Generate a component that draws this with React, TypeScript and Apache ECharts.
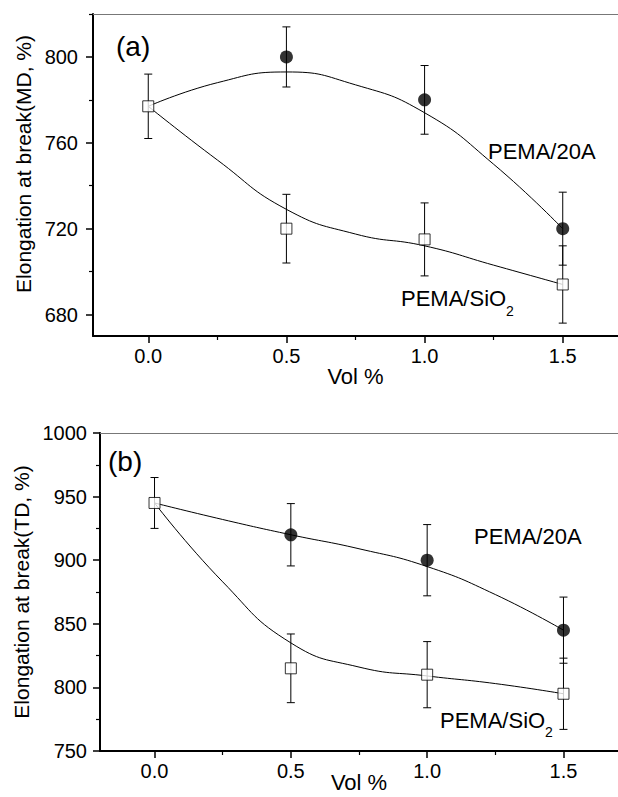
import React, { useEffect, useRef } from "react";
import * as echarts from "echarts";

// ---------- data ----------
const volFrac = [0, 0.5, 1.0, 1.5];
const fitX = [0, 0.25, 0.5, 0.75, 1.0, 1.25, 1.5];

// (a) machine direction
const mdSiO2 = [777, 720, 715, 694];
const mdSiO2Err = [15, 16, 17, 18];
const md20AX = [0.5, 1.0, 1.5];
const md20A = [800, 780, 720];
const md20AErr = [14, 16, 17];
const md20AFit = [777, 788, 793, 787, 774, 750, 720];
const mdSiO2Fit = [777, 752, 729, 717.5, 712, 703, 694];

// (b) transverse direction
const tdSiO2 = [945, 815, 810, 795];
const tdSiO2Err = [20, 27, 26, 28];
const td20AX = [0.5, 1.0, 1.5];
const td20A = [920, 900, 845];
const td20AErr = [24.5, 28, 26];
const td20AFit = [945, 932, 920, 909, 895, 873, 845];
const tdSiO2Fit = [945, 883, 835, 816, 809, 803, 795];

// ticks
const xMajor = [0, 0.5, 1.0, 1.5];
const xMinor = [0.25, 0.75, 1.25];
const mdMajor = [680, 720, 760, 800];
const mdMinor = [700, 740, 780, 820];
const tdMajor = [750, 800, 850, 900, 950, 1000];
const tdMinor = [775, 825, 875, 925, 975];

const FONT = "'Liberation Sans', Arial, Helvetica, sans-serif";

function xAxesFor(grid: number, nameGap: number) {
  return [
    {
      gridIndex: grid,
      type: "value",
      min: -0.2,
      max: 1.7,
      position: "bottom",
      axisLine: { onZero: false, lineStyle: { color: "#000", width: 2 } },
      axisTick: { customValues: xMajor, length: 7, lineStyle: { color: "#000", width: 1.5 } },
      axisLabel: {
        customValues: xMajor,
        formatter: (v: number) => v.toFixed(1),
        color: "#000",
        fontSize: 20,
        fontFamily: FONT,
        margin: 10,
      },
      splitLine: { show: false },
      name: "Vol %",
      nameLocation: "middle",
      nameGap,
      nameMoveOverlap: false,
      nameTextStyle: { color: "#000", fontSize: 22, fontFamily: FONT, verticalAlign: "top" },
    },
    {
      gridIndex: grid,
      type: "value",
      min: -0.2,
      max: 1.7,
      position: "bottom",
      axisLine: { show: false, onZero: false },
      axisTick: { customValues: xMinor, length: 4, lineStyle: { color: "#000", width: 1.2 } },
      axisLabel: { show: false },
      splitLine: { show: false },
    },
    {
      gridIndex: grid,
      type: "value",
      min: -0.2,
      max: 1.7,
      position: "top",
      axisLine: { onZero: false, lineStyle: { color: "#777", width: 1 } },
      axisTick: { show: false },
      axisLabel: { show: false },
      splitLine: { show: false },
    },
  ];
}

function yAxesFor(
  grid: number,
  min: number,
  max: number,
  major: number[],
  minor: number[],
  name: string,
  labelMargin: number,
  nameGap: number,
  namePad: number[]
) {
  return [
    {
      gridIndex: grid,
      type: "value",
      min,
      max,
      position: "left",
      axisLine: { onZero: false, lineStyle: { color: "#000", width: 2 } },
      axisTick: { customValues: major, length: 7, lineStyle: { color: "#000", width: 1.5 } },
      axisLabel: {
        customValues: major,
        formatter: (v: number) => String(v),
        color: "#000",
        fontSize: 20,
        fontFamily: FONT,
        margin: labelMargin,
      },
      splitLine: { show: false },
      name,
      nameLocation: "middle",
      nameGap,
      nameTextStyle: { color: "#000", fontSize: 21, fontFamily: FONT, padding: namePad },
    },
    {
      gridIndex: grid,
      type: "value",
      min,
      max,
      position: "left",
      axisLine: { show: false, onZero: false },
      axisTick: { customValues: minor, length: 4, lineStyle: { color: "#000", width: 1.2 } },
      axisLabel: { show: false },
      splitLine: { show: false },
    },
  ];
}

function errorRender(params: any, api: any) {
  const x = api.value(0);
  const y = api.value(1);
  const e = api.value(2);
  const top = api.coord([x, y + e]);
  const bot = api.coord([x, y - e]);
  const w = 4;
  const style = { stroke: "#000", lineWidth: 1 };
  return {
    type: "group",
    children: [
      { type: "line", shape: { x1: top[0], y1: top[1], x2: bot[0], y2: bot[1] }, style },
      { type: "line", shape: { x1: top[0] - w, y1: top[1], x2: top[0] + w, y2: top[1] }, style },
      { type: "line", shape: { x1: bot[0] - w, y1: bot[1], x2: bot[0] + w, y2: bot[1] }, style },
    ],
  };
}

function panelSeries(
  xi: number,
  yi: number,
  fitA: number[],
  fitS: number[],
  aX: number[],
  aVals: number[],
  aErr: number[],
  sVals: number[],
  sErr: number[]
) {
  const line = (vals: number[]) => ({
    type: "line",
    xAxisIndex: xi,
    yAxisIndex: yi,
    data: fitX.map((x, i) => [x, vals[i]]),
    smooth: true,
    symbol: "none",
    lineStyle: { color: "#000", width: 1 },
    z: 1,
    silent: true,
  });
  const err = (xs: number[], vals: number[], errs: number[]) => ({
    type: "custom",
    xAxisIndex: xi,
    yAxisIndex: yi,
    renderItem: errorRender,
    encode: { x: 0, y: 1 },
    data: xs.map((x, i) => [x, vals[i], errs[i]]),
    z: 2,
    silent: true,
  });
  return [
    line(fitA),
    line(fitS),
    err(aX, aVals, aErr),
    err(volFrac, sVals, sErr),
    {
      type: "scatter",
      xAxisIndex: xi,
      yAxisIndex: yi,
      data: aX.map((x, i) => [x, aVals[i]]),
      symbol: "circle",
      symbolSize: 13,
      itemStyle: { color: "#000" },
      z: 3,
    },
    {
      type: "scatter",
      xAxisIndex: xi,
      yAxisIndex: yi,
      data: volFrac.map((x, i) => [x, sVals[i]]),
      symbol: "rect",
      symbolSize: 11,
      itemStyle: { color: "#fff", borderColor: "#000", borderWidth: 1 },
      z: 4,
    },
  ];
}

function txt(x: number, y: number, text: string, size: number) {
  return {
    type: "text",
    x,
    y,
    style: { text, fill: "#000", fontSize: size, fontFamily: FONT, verticalAlign: "middle", align: "left" },
    z: 10,
  };
}

export default function App() {
  const ref = useRef<HTMLDivElement>(null);
  useEffect(() => {
    if (!ref.current) return;
    const chart = echarts.init(ref.current, null, { renderer: "svg" });
    const option: any = {
      animation: false,
      backgroundColor: "#fff",
      grid: [
        { left: 93, top: 14, width: 525, height: 322, containLabel: false, outerBoundsMode: "none" },
        { left: 100, top: 433, width: 518, height: 318, containLabel: false, outerBoundsMode: "none" },
      ],
      xAxis: [...xAxesFor(0, 29), ...xAxesFor(1, 20)],
      yAxis: [
        ...yAxesFor(0, 670, 820, mdMajor, mdMinor, "Elongation at break(MD, %)", 15, 44, [0, 0, 0, 22]),
        ...yAxesFor(1, 750, 1000, tdMajor, tdMinor, "Elongation at break(TD, %)", 13, 54, [0, 0, 0, 0]),
      ],
      series: [
        ...panelSeries(0, 0, md20AFit, mdSiO2Fit, md20AX, md20A, md20AErr, mdSiO2, mdSiO2Err),
        ...panelSeries(3, 2, td20AFit, tdSiO2Fit, td20AX, td20A, td20AErr, tdSiO2, tdSiO2Err),
      ],
      graphic: [
        txt(116, 46, "(a)", 28),
        txt(488, 151, "PEMA/20A", 22),
        txt(401, 298, "PEMA/SiO", 22),
        txt(506, 311, "2", 14),
        txt(108, 461, "(b)", 28),
        txt(474, 536, "PEMA/20A", 22),
        txt(440, 720, "PEMA/SiO", 22),
        txt(545, 732, "2", 14),
      ],
    };
    chart.setOption(option);
    return () => chart.dispose();
  }, []);
  return (
    <div
      ref={ref}
      style={{ position: "absolute", left: 0, top: 0, width: 618, height: 797, background: "#fff" }}
    />
  );
}
